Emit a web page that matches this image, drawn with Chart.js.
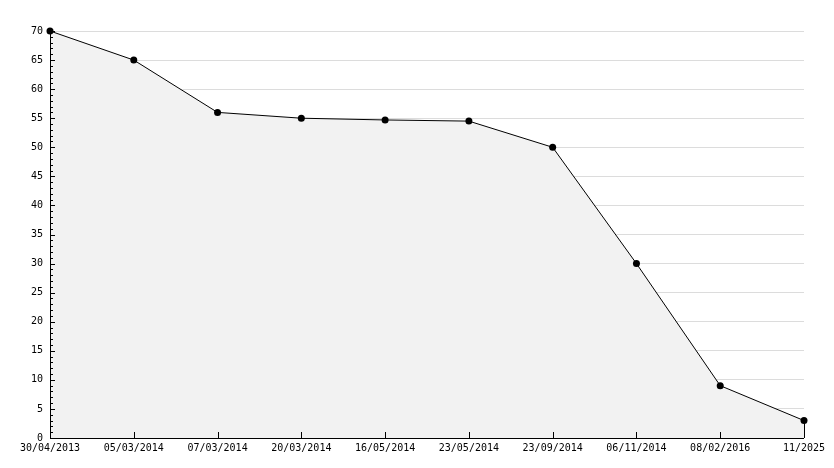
<!DOCTYPE html>
<html>
<head>
<meta charset="utf-8">
<script src="https://cdn.jsdelivr.net/npm/chart.js@4"></script>
<style>
  html, body { margin: 0; padding: 0; background: #fff; }
  #wrap { width: 834px; height: 468px; }
</style>
</head>
<body>
<div id="wrap"><canvas id="chart" width="834" height="468"></canvas></div>
<script>
// data
const dates = ['30/04/2013', '05/03/2014', '07/03/2014', '20/03/2014', '16/05/2014',
               '23/05/2014', '23/09/2014', '06/11/2014', '08/02/2016', '11/2025'];
const values = [70, 65, 56, 55, 54.7, 54.5, 50, 30, 9, 3];
const yMin = 0;
const yMax = 70;
const yStep = 5;

// small tick marks drawn inside the axes, plus the closing edge of the area
const axisTicks = {
    id: 'axisTicks',
    beforeDatasetsDraw(chart) {
        const ctx = chart.ctx;
        const area = chart.chartArea;
        const y = chart.scales.y;
        const x = chart.scales.x;
        ctx.save();
        ctx.strokeStyle = '#000';
        ctx.lineWidth = 1;
        ctx.beginPath();
        // y minor / major ticks
        for (let v = yMin; v <= yMax; v++) {
            const py = Math.round(y.getPixelForValue(v)) + 0.5;
            const len = (v % yStep === 0) ? 5 : 3;
            ctx.moveTo(area.left, py);
            ctx.lineTo(area.left + len, py);
        }
        ctx.stroke();
        ctx.restore();
    },
    afterDatasetsDraw(chart) {
        const ctx = chart.ctx;
        const area = chart.chartArea;
        const y = chart.scales.y;
        const x = chart.scales.x;
        ctx.save();
        ctx.strokeStyle = '#000';
        ctx.lineWidth = 1;
        ctx.beginPath();
        for (let v = yMin; v <= yMax; v++) {
            const py = Math.round(y.getPixelForValue(v)) + 0.5;
            const len = (v % yStep === 0) ? 5 : 3;
            ctx.moveTo(area.left, py);
            ctx.lineTo(area.left + len, py);
        }
        // x ticks
        dates.forEach((d, i) => {
            const px = Math.round(x.getPixelForValue(i)) + 0.5;
            ctx.moveTo(px, area.bottom);
            ctx.lineTo(px, area.bottom - 6);
        });
        // right edge of filled area
        const lastX = Math.round(x.getPixelForValue(dates.length - 1)) + 0.5;
        ctx.moveTo(lastX, y.getPixelForValue(values[values.length - 1]));
        ctx.lineTo(lastX, area.bottom);
        // axis lines
        ctx.moveTo(Math.round(area.left) + 0.5, area.top);
        ctx.lineTo(Math.round(area.left) + 0.5, area.bottom);
        ctx.moveTo(area.left, Math.round(area.bottom) + 0.5);
        ctx.lineTo(area.right, Math.round(area.bottom) + 0.5);
        ctx.stroke();
        ctx.restore();
    }
};

const ctx = document.getElementById('chart').getContext('2d');
new Chart(ctx, {
    type: 'line',
    data: {
        labels: dates,
        datasets: [{
            data: values,
            borderColor: '#000',
            borderWidth: 1,
            backgroundColor: '#f2f2f2',
            fill: 'origin',
            tension: 0,
            clip: false,
            pointRadius: 3.5,
            pointBackgroundColor: '#000',
            pointBorderColor: '#000',
            pointBorderWidth: 0
        }]
    },
    options: {
        responsive: false,
        animation: false,
        layout: { padding: { top: 31, right: 30, left: 0, bottom: 0 } },
        plugins: {
            legend: { display: false },
            tooltip: { enabled: false }
        },
        scales: {
            x: {
                offset: false,
                grid: { display: false, drawTicks: false },
                border: { display: false },
                afterFit: function(scale) { scale.height = 30; },
                ticks: {
                    color: '#000',
                    padding: 4,
                    maxRotation: 0,
                    autoSkip: false,
                    font: { family: 'DejaVu Sans Mono', size: 10 }
                }
            },
            y: {
                min: yMin,
                max: yMax,
                grid: { color: '#dcdcdc', drawTicks: false },
                border: { display: false },
                afterFit: function(scale) { scale.width = 50; },
                ticks: {
                    stepSize: yStep,
                    color: '#000',
                    padding: 7,
                    font: { family: 'DejaVu Sans Mono', size: 10 }
                }
            }
        }
    },
    plugins: [axisTicks]
});
</script>
</body>
</html>
